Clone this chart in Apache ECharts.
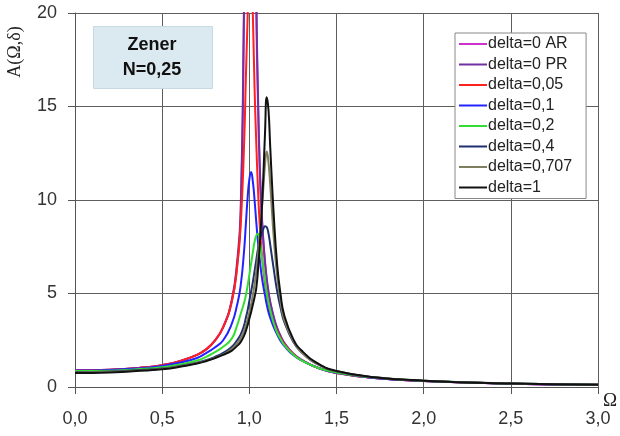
<!DOCTYPE html>
<html><head><meta charset="utf-8">
<script src="https://cdn.jsdelivr.net/npm/echarts@6/dist/echarts.min.js"></script>
<style>html,body{margin:0;padding:0;background:#fff}#c{width:620px;height:436px}</style>
</head><body><div id="c"></div>
<script>
var omega = [0, 0.2, 0.4, 0.5, 0.6, 0.7, 0.75, 0.8, 0.85, 0.9, 0.93, 0.95, 0.97, 0.98, 0.99, 1.0, 1.01, 1.02, 1.03, 1.04, 1.05, 1.06, 1.07, 1.08, 1.09, 1.1, 1.11, 1.12, 1.14, 1.16, 1.18, 1.2, 1.25, 1.3, 1.4, 1.5, 1.7, 2.0, 2.5, 3.0];
var seriesNames = ['delta=0 AR', 'delta=0 PR', 'delta=0,05', 'delta=0,1', 'delta=0,2', 'delta=0,4', 'delta=0,707', 'delta=1'];
var d0AR  = [0.88, 0.92, 1.05, 1.17, 1.38, 1.72, 2.0, 2.45, 3.2, 4.6, 6.5, 9.0, 20, 28, 45, 80, 80, 50, 30, 20, 15, 11.5, 9.3, 7.8, 6.6, 5.7, 5.0, 4.5, 3.7, 3.1, 2.7, 2.35, 1.8, 1.45, 1.0, 0.75, 0.5, 0.32, 0.18, 0.12];
var d0PR  = [0.88, 0.92, 1.05, 1.17, 1.38, 1.72, 2.0, 2.45, 3.2, 4.7, 6.7, 9.4, 21, 30, 48, 85, 85, 55, 32, 21, 15.5, 11.8, 9.5, 7.9, 6.7, 5.8, 5.1, 4.55, 3.75, 3.15, 2.72, 2.37, 1.8, 1.45, 1.0, 0.75, 0.5, 0.32, 0.18, 0.12];
var d005  = [0.88, 0.92, 1.05, 1.17, 1.38, 1.72, 2.0, 2.45, 3.2, 4.6, 6.4, 8.6, 13, 16.5, 19.7, 23, 23, 20, 16, 13, 10.5, 8.6, 7.3, 6.3, 5.5, 4.9, 4.4, 4.0, 3.4, 2.95, 2.6, 2.3, 1.78, 1.43, 1.0, 0.75, 0.5, 0.32, 0.18, 0.12];
var d01   = [0.88, 0.91, 1.02, 1.12, 1.3, 1.55, 1.8, 2.1, 2.5, 3.4, 4.4, 5.4, 7.3, 8.7, 10.1, 11.1, 11.5, 11.0, 10.0, 8.8, 7.7, 6.8, 6.0, 5.4, 4.9, 4.4, 4.0, 3.7, 3.2, 2.8, 2.45, 2.2, 1.72, 1.42, 1.0, 0.76, 0.5, 0.32, 0.18, 0.12];
var d02   = [0.85, 0.87, 0.97, 1.06, 1.2, 1.42, 1.6, 1.85, 2.15, 2.6, 3.3, 3.9, 4.5, 4.9, 5.4, 6.0, 6.6, 7.2, 7.75, 8.1, 8.2, 7.8, 7.1, 6.4, 5.7, 5.0, 4.5, 4.1, 3.4, 2.9, 2.55, 2.25, 1.75, 1.42, 1.0, 0.78, 0.52, 0.33, 0.19, 0.12];
var d04   = [0.8, 0.83, 0.92, 0.99, 1.12, 1.3, 1.43, 1.6, 1.82, 2.15, 2.5, 2.8, 3.3, 3.7, 4.1, 4.6, 5.1, 5.6, 6.2, 6.8, 7.4, 7.8, 8.2, 8.45, 8.6, 8.55, 8.2, 7.6, 6.3, 5.1, 4.2, 3.5, 2.45, 1.85, 1.18, 0.84, 0.53, 0.33, 0.19, 0.12];
var d0707 = [0.78, 0.81, 0.9, 0.97, 1.1, 1.28, 1.4, 1.55, 1.75, 2.05, 2.35, 2.6, 3.0, 3.3, 3.6, 4.0, 4.4, 4.9, 5.5, 6.2, 7.1, 8.1, 9.3, 10.6, 11.9, 12.6, 12.0, 10.8, 8.0, 5.9, 4.5, 3.6, 2.5, 1.85, 1.18, 0.84, 0.53, 0.34, 0.19, 0.12];
var d1    = [0.75, 0.78, 0.88, 0.95, 1.08, 1.26, 1.38, 1.53, 1.72, 1.95, 2.2, 2.4, 2.75, 3.0, 3.3, 3.65, 4.0, 4.4, 4.8, 5.3, 6.3, 7.6, 9.2, 11.2, 13.6, 15.5, 14.8, 12.8, 9.2, 6.5, 4.9, 3.85, 2.6, 1.95, 1.22, 0.86, 0.54, 0.34, 0.19, 0.12];
var seriesValues = [d0AR, d0PR, d005, d01, d02, d04, d0707, d1];
var seriesColors = ['#cc33cc', '#7030a0', '#ff2020', '#2222ff', '#33dd33', '#1f2f6f', '#7f7f5f', '#111111'];
var xTicks = [0, 0.5, 1, 1.5, 2, 2.5, 3];
var yTicks = [0, 5, 10, 15, 20];

var chart = echarts.init(document.getElementById('c'));
var series = seriesNames.map(function (n, i) {
  return {
    name: n, type: 'line', smooth: 0.5, showSymbol: false, symbol: 'none',
    lineStyle: { color: seriesColors[i], width: 2 }, itemStyle: { color: seriesColors[i] },
    data: omega.map(function (x, k) { return [x, seriesValues[i][k]]; }),
    clip: true, z: 3
  };
});
chart.setOption({
  animation: false,
  textStyle: { fontFamily: 'Liberation Sans, Arial, sans-serif' },
  grid: { left: 75, right: 22, top: 13, bottom: 49 },
  xAxis: {
    type: 'value', min: xTicks[0], max: xTicks[xTicks.length - 1], interval: 0.5,
    axisLine: { onZero: false, lineStyle: { color: '#555', width: 1 } },
    axisTick: { show: true, length: 7, lineStyle: { color: '#555' } },
    splitLine: { show: true, lineStyle: { color: '#5e5e5e', width: 1 } },
    axisLabel: { fontSize: 18, color: '#333', margin: 23, formatter: function (v) { return v.toFixed(1).replace('.', ','); } }
  },
  yAxis: {
    type: 'value', min: yTicks[0], max: yTicks[yTicks.length - 1], interval: 5,
    axisLine: { show: true, lineStyle: { color: '#555', width: 1 } },
    axisTick: { show: true, length: 7, lineStyle: { color: '#555' } },
    splitLine: { show: true, lineStyle: { color: '#5e5e5e', width: 1 } },
    axisLabel: { fontSize: 18, color: '#333', margin: 18 }
  },
  legend: {
    data: seriesNames, orient: 'vertical', left: 455, top: 33,
    backgroundColor: '#fff', borderColor: '#888', borderWidth: 1,
    padding: [3, 14, 3, 4], itemGap: 4.5, itemWidth: 28, itemHeight: 2, icon: 'rect',
    textStyle: { fontSize: 16, color: '#222', padding: [0, 0, 0, -4] },
    selectedMode: false
  },
  graphic: [
    { type: 'rect', left: 93, top: 26, z: 10, shape: { width: 119, height: 62 }, style: { fill: '#dbe9f1', stroke: '#c9d9e3', lineWidth: 1 } },
    { type: 'text', z: 11, x: 152, y: 45, style: { text: 'Zener', fill: '#111', font: 'bold 18px Liberation Sans, Arial, sans-serif', textAlign: 'center', textVerticalAlign: 'middle' } },
    { type: 'text', z: 11, x: 152, y: 70, style: { text: 'N=0,25', fill: '#111', font: 'bold 18px Liberation Sans, Arial, sans-serif', textAlign: 'center', textVerticalAlign: 'middle' } },
    { type: 'text', z: 11, x: 15, y: 52, rotation: Math.PI / 2, style: { text: 'A(Ω,δ)', fill: '#222', font: '18px Liberation Serif, Times New Roman, serif', textAlign: 'center', textVerticalAlign: 'middle' } },
    { type: 'text', z: 11, x: 610, y: 401, style: { text: 'Ω', fill: '#222', font: '19px Liberation Serif, Times New Roman, serif', textAlign: 'center', textVerticalAlign: 'middle' } }
  ],
  series: series
});
</script></body></html>
